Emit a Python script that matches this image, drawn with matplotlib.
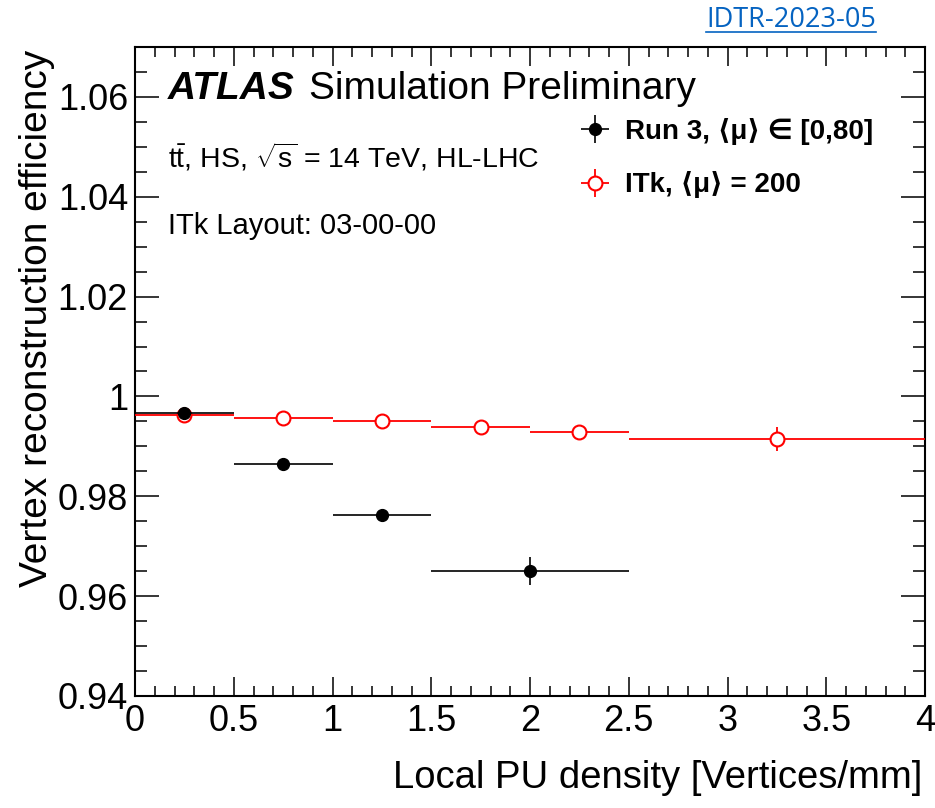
import numpy as np
import matplotlib
matplotlib.use('Agg')
import matplotlib.pyplot as plt
from matplotlib.ticker import MultipleLocator, FuncFormatter
from matplotlib.lines import Line2D

plt.rcParams['font.family'] = ['Liberation Sans', 'DejaVu Sans']
plt.rcParams['mathtext.fontset'] = 'custom'
plt.rcParams['mathtext.rm'] = 'Liberation Sans'
plt.rcParams['mathtext.it'] = 'Liberation Sans:italic'
plt.rcParams['mathtext.bf'] = 'Liberation Sans:bold'

# Run 3, <mu> in [0,80]
run3_x = [0.25, 0.75, 1.25, 2.0]
run3_xerr = [0.25, 0.25, 0.25, 0.5]
run3_eff = [0.9967, 0.9865, 0.9763, 0.9651]
run3_err = [0.0003, 0.0004, 0.0006, 0.0028]

# ITk, <mu> = 200
itk_x = [0.25, 0.75, 1.25, 1.75, 2.25, 3.25]
itk_xerr = [0.25, 0.25, 0.25, 0.25, 0.25, 0.75]
itk_eff = [0.9963, 0.9956, 0.9951, 0.9939, 0.9929, 0.9914]
itk_err = [0.0001, 0.0001, 0.0001, 0.0002, 0.0004, 0.0024]

fig = plt.figure(figsize=(9.35, 8.08), dpi=100)
ax = fig.add_axes([135/935, 1-696/808, 790/935, 649/808])

h_itk = ax.errorbar(itk_x, itk_eff, xerr=itk_xerr, yerr=itk_err, fmt='o', color='#ff0000',
                    mfc='white', mec='#ff0000', ms=10, mew=1.5, elinewidth=1.3, capsize=0, zorder=3)
h_run3 = ax.errorbar(run3_x, run3_eff, xerr=run3_xerr, yerr=run3_err, fmt='o', color='black',
                     ms=8.5, elinewidth=1.2, capsize=0, zorder=4)

ax.set_xlim(0, 4)
ax.set_ylim(0.94, 1.07)
ax.xaxis.set_major_locator(MultipleLocator(0.5))
ax.xaxis.set_minor_locator(MultipleLocator(0.1))
ax.yaxis.set_major_locator(MultipleLocator(0.02))
ax.yaxis.set_minor_locator(MultipleLocator(0.005))
fmt = FuncFormatter(lambda v, p: '%g' % round(v, 4))
ax.xaxis.set_major_formatter(fmt)
ax.yaxis.set_major_formatter(fmt)
ax.tick_params(which='both', direction='in', top=True, right=True, width=1.1, labelsize=26)
ax.tick_params(axis='x', which='major', length=14, pad=6)
ax.tick_params(axis='x', which='minor', length=7)
ax.tick_params(axis='y', which='major', length=17, pad=5)
ax.tick_params(axis='y', which='minor', length=8.5)
for s in ax.spines.values():
    s.set_linewidth(1.5)

fig.text(922/935, 1-778/808, 'Local PU density [Vertices/mm]', ha='right', va='center', fontsize=27.5)
fig.text(37/935, 1-50/808, 'Vertex reconstruction efficiency', rotation=90, ha='center', va='top', fontsize=28)

atl = ax.text(0.042, 0.92, 'ATLAS', transform=ax.transAxes, fontsize=28, fontweight='bold',
              fontstyle='italic', va='baseline')
ax.text(0.042, 0.815, r'$\mathrm{t\bar{t}}$, HS, $\sqrt{\mathrm{s}}$ = 14 TeV, HL-LHC', transform=ax.transAxes,
        fontsize=20.5, va='baseline')
ax.text(0.042, 0.712, 'ITk Layout: 03-00-00', transform=ax.transAxes, fontsize=21, va='baseline')

leg = ax.legend([h_run3, h_itk], ['Run 3, ⟨μ⟩ ∈ [0,80]', 'ITk, ⟨μ⟩ = 200'],
                loc='upper left', bbox_to_anchor=(578/935, 1-118/808), bbox_transform=fig.transFigure,
                frameon=False, fontsize=20, handlelength=1.2, handletextpad=0.5, labelspacing=0.95,
                borderpad=0, borderaxespad=0)
for t in leg.get_texts():
    t.set_fontweight('bold')

t = fig.text(791/935, 1-20/808, 'IDTR-2023-05', color='#0563c1', fontsize=19.5, ha='center', va='center',
             family=['Open Sans', 'DejaVu Sans'])
fig.canvas.draw()
inv = fig.transFigure.inverted()
bb = atl.get_window_extent().transformed(ax.transAxes.inverted())
ax.text(bb.x1 + 0.018, 0.92, 'Simulation Preliminary', transform=ax.transAxes, fontsize=28, va='baseline')
bb = t.get_window_extent().transformed(inv)
fig.add_artist(Line2D([bb.x0, bb.x1], [bb.y0 + 0.002, bb.y0 + 0.002], color='#0563c1', lw=1.2,
                      transform=fig.transFigure))

fig.savefig('out.png', dpi=100)
